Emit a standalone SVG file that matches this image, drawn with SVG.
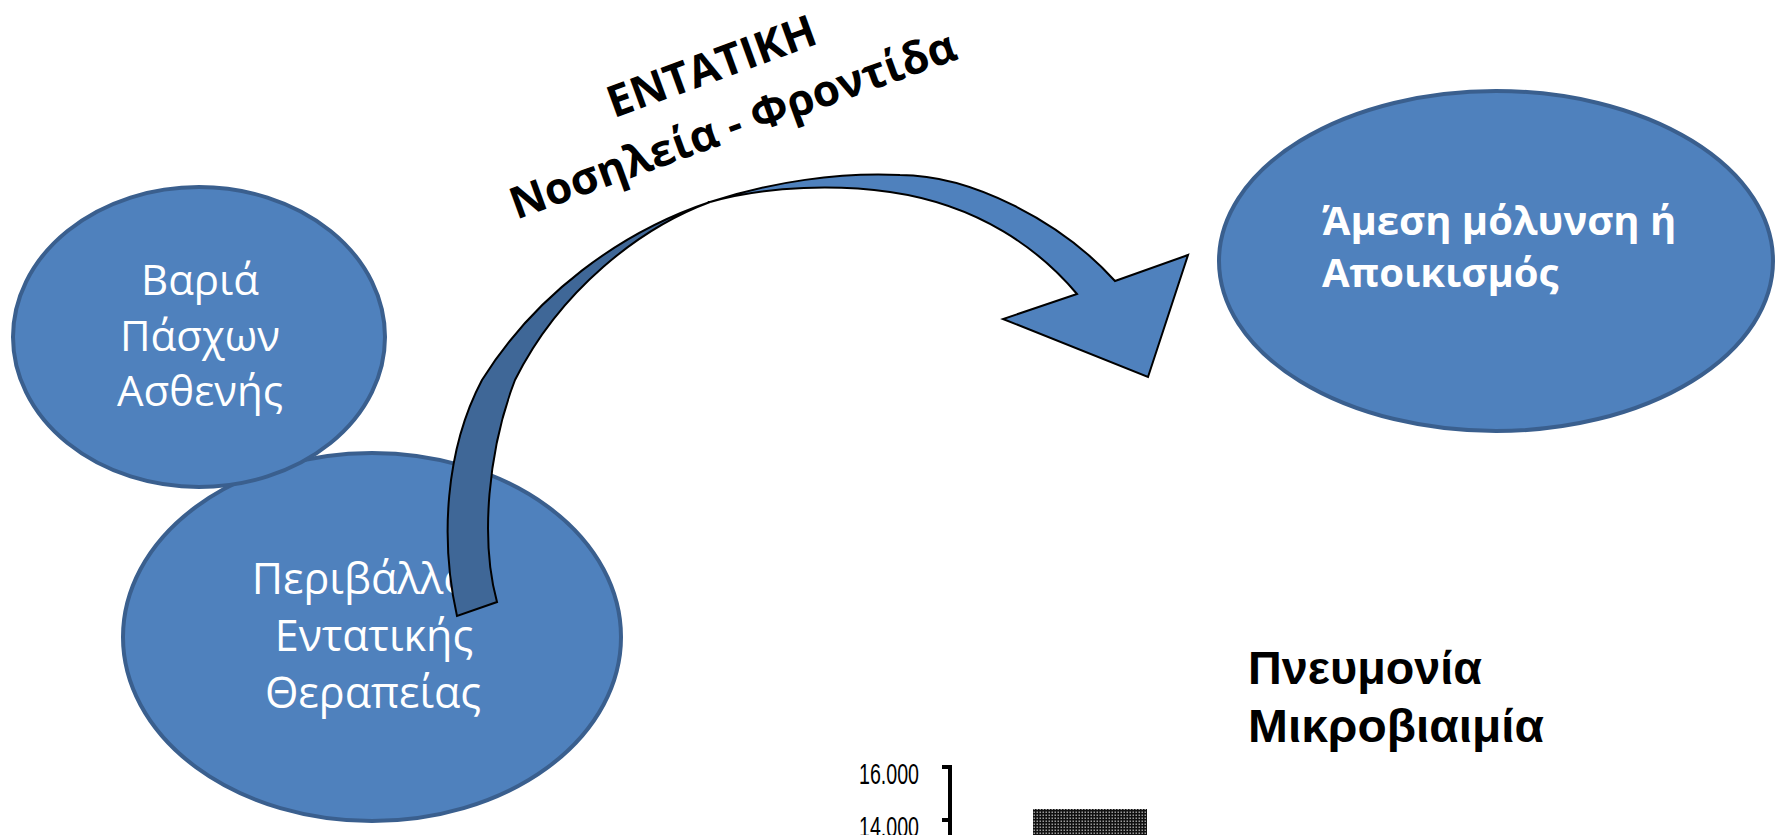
<svg xmlns="http://www.w3.org/2000/svg" width="1776" height="835" viewBox="0 0 1776 835">
<defs>
<style>
.node{fill:#4F81BD;stroke:#3A5F8E;stroke-width:4}
.nt{font-family:"Open Sans","Noto Sans",sans-serif;font-size:42px;fill:#fff;text-anchor:middle}
.nt2{font-family:"Open Sans","Noto Sans",sans-serif;font-size:43px;fill:#fff;text-anchor:middle}
.nb{font-family:"Open Sans","Noto Sans",sans-serif;font-size:40px;font-weight:bold;fill:#fff}
.title{font-family:"Open Sans","Noto Sans",sans-serif;font-size:44px;font-weight:bold;fill:#000;text-anchor:middle}
.lab{font-family:"Liberation Sans",Arial,sans-serif;font-size:46px;font-weight:bold;fill:#000}
.ax{font-family:"Liberation Sans",Arial,sans-serif;font-size:29px;fill:#000}
.arr{stroke:#000;stroke-width:2;stroke-linejoin:miter}
</style>
<pattern id="hatch" width="3" height="3" patternUnits="userSpaceOnUse">
<rect width="3" height="3" fill="#9a9a9a"/>
<rect width="3" height="1.5" fill="#111"/>
<rect width="1.5" height="3" fill="#111"/>
</pattern>
</defs>
<rect width="1776" height="835" fill="#fff"/>

<g id="node-env">
<ellipse class="node" cx="372" cy="637" rx="249" ry="184"/>
<text class="nt2" x="372" y="594">Περιβάλλον</text>
<text class="nt2" x="374" y="651">Εντατικής</text>
<text class="nt2" x="373" y="708">Θεραπείας</text>
</g>

<g id="node-patient">
<ellipse class="node" cx="199" cy="337" rx="186" ry="150"/>
<text class="nt" x="200" y="295">Βαριά</text>
<text class="nt" x="200" y="351">Πάσχων</text>
<text class="nt" x="200" y="406">Ασθενής</text>
</g>

<g id="node-infection">
<ellipse class="node" cx="1496" cy="261" rx="277" ry="170"/>
<text class="nb" x="1322" y="235">Άμεση μόλυνση ή</text>
<text class="nb" x="1322" y="287">Αποικισμός</text>
</g>

<g id="connectors">
<path class="arr" fill="#3F6797" d="M457,616 C440,540 445,450 482,380 C535,295 620,232 710,202 C640,228 560,290 515,380 C488,450 480,540 497,602 Z"/>
<path class="arr" fill="#4F81BD" d="M710,202 C770,182 840,172 900,175 C970,175 1060,220 1115,281 L1188,255 L1148,377 L1003,319 L1077,294 C1040,250 980,205 890,192 C840,185 770,185 710,202 Z"/>
</g>

<g id="title" transform="translate(727,109) rotate(-20)">
<text class="title" x="0" y="-30">ΕΝΤΑΤΙΚΗ</text>
<text class="title" x="0" y="32">Νοσηλεία - Φροντίδα</text>
</g>

<g id="outcomes">
<text class="lab" x="1248" y="684" textLength="234" lengthAdjust="spacingAndGlyphs">Πνευμονία</text>
<text class="lab" x="1248" y="742" textLength="296" lengthAdjust="spacingAndGlyphs">Μικροβιαιμία</text>
</g>

<g id="chart">
<text class="ax" x="859" y="784" textLength="60" lengthAdjust="spacingAndGlyphs">16.000</text>
<text class="ax" x="859" y="837" textLength="60" lengthAdjust="spacingAndGlyphs">14.000</text>
<path d="M950,765 V835 M942,767 H950 M942,820 H950" fill="none" stroke="#000" stroke-width="4"/>
<rect x="1033" y="809" width="114" height="30" fill="url(#hatch)"/>
</g>
</svg>
